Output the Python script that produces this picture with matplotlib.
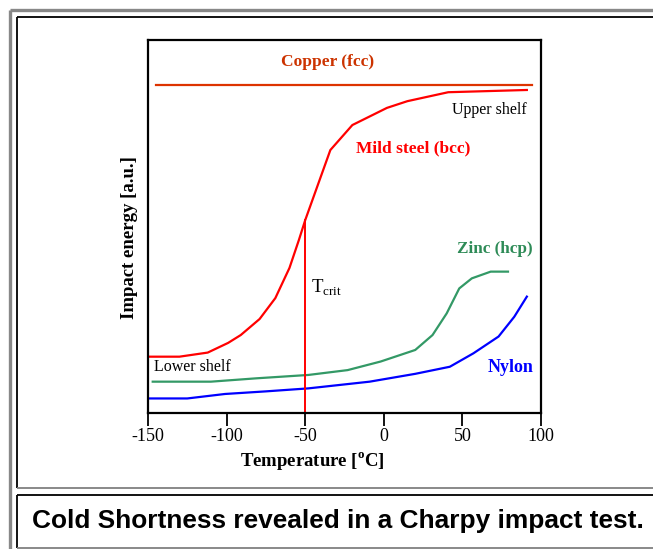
import matplotlib
matplotlib.use('Agg')
import matplotlib.pyplot as plt
from matplotlib.lines import Line2D

# data (impact energy in arbitrary units, 0..100)
copper_x = [-145, 94]
copper_y = [88, 88]

steel_x = [-150, -130, -112, -99, -91, -79, -69, -60, -54, -50, -34, -20, 2, 15, 41, 66, 91]
steel_y = [15.1, 15.1, 16.2, 18.8, 20.9, 25.2, 30.8, 38.9, 46.4, 51.7, 70.5, 77.2, 81.8, 83.6, 86.0, 86.3, 86.6]

zinc_x = [-147, -110, -81, -48, -23, -2, 20, 31, 40, 48, 56, 68, 79]
zinc_y = [8.4, 8.4, 9.3, 10.2, 11.5, 13.8, 16.9, 20.9, 26.7, 33.4, 36.1, 37.9, 37.9]

nylon_x = [-150, -125, -101, -75, -48, -9, 20, 42, 57, 73, 83, 91]
nylon_y = [3.9, 3.9, 5.1, 5.8, 6.6, 8.4, 10.5, 12.4, 16.0, 20.5, 25.8, 31.2]

t_crit = -50
xticks = [-150, -100, -50, 0, 50, 100]

serif = 'Liberation Serif'

fig = plt.figure(figsize=(6.53, 5.49), dpi=100)
W, H = 653.0, 549.0


def px(x, y):
    return x / W, 1 - y / H


# page frame (gray outer band, black inner box lines, caption box)
def fline(x0, y0, x1, y1, color, lw):
    a = px(x0, y0)
    b = px(x1, y1)
    fig.add_artist(Line2D([a[0], b[0]], [a[1], b[1]], color=color, lw=lw,
                          transform=fig.transFigure, solid_capstyle='butt'))


fline(9.5, 9.5, 653, 9.5, '#888888', 2.4)
fline(9.5, 9.5, 9.5, 549, '#888888', 2.4)
fline(16.5, 16.5, 653, 16.5, 'black', 1.3)
fline(16.5, 16.5, 16.5, 488, 'black', 1.3)
fline(16.5, 488, 653, 488, '#808080', 1.3)
fline(16.5, 494.5, 653, 494.5, 'black', 1.3)
fline(16.5, 494.5, 16.5, 548, 'black', 1.3)
fline(16.5, 548, 653, 548, '#808080', 1.3)

ax = fig.add_axes([148 / W, 1 - 413 / H, (541 - 148) / W, (413 - 40) / H])

ax.plot(copper_x, copper_y, color='#DD3300', lw=1.6)
ax.plot(steel_x, steel_y, color='#FF0000', lw=1.6)
ax.plot(zinc_x, zinc_y, color='#339966', lw=1.6)
ax.plot(nylon_x, nylon_y, color='#0000FF', lw=1.6)
ax.plot([t_crit, t_crit], [0, 51.7], color='#FF0000', lw=1.4)

ax.set_xlim(-150, 100)
ax.set_ylim(0, 100)
ax.set_xticks(xticks)
ax.set_xticklabels([str(t) for t in xticks], fontfamily=serif, fontsize=13)
ax.set_yticks([])
ax.tick_params(axis='x', direction='out', length=9, width=1.3, pad=2)
for s in ax.spines.values():
    s.set_linewidth(1.6)

ax.set_xlabel('Temperature [$^{\\mathregular{o}}$C]', fontfamily=serif, fontweight='bold',
              fontsize=13.5)
ax.xaxis.set_label_coords(0.418, -0.1)
ax.set_ylabel('Impact energy [a.u.]', fontfamily=serif, fontweight='bold', fontsize=13.5)
ax.yaxis.set_label_coords(-0.026, 0.47)

ax.text(-36, 94.2, 'Copper (fcc)', color='#CC3300', fontfamily=serif, fontweight='bold',
        fontsize=12.5, ha='center', va='center')
ax.text(91, 81.3, 'Upper shelf', color='black', fontfamily=serif, fontsize=11.5,
        ha='right', va='center')
ax.text(-18, 71.0, 'Mild steel (bcc)', color='#FF0000', fontfamily=serif, fontweight='bold',
        fontsize=12.5, ha='left', va='center')
ax.text(46.5, 44.0, 'Zinc (hcp)', color='#2E8B57', fontfamily=serif, fontweight='bold',
        fontsize=12.3, ha='left', va='center')
ax.text(-46, 33.5, 'T$_{\\mathregular{crit}}$', color='black', fontfamily=serif,
        fontsize=13.5, ha='left', va='center')
ax.text(-146, 12.3, 'Lower shelf', color='black', fontfamily=serif, fontsize=11.5,
        ha='left', va='center')
ax.text(95, 12.3, 'Nylon', color='#0000FF', fontfamily=serif, fontweight='bold',
        fontsize=13, ha='right', va='center')

cx, cy = px(32, 521)
fig.text(cx, cy, 'Cold Shortness revealed in a Charpy impact test.', fontfamily='Liberation Sans',
         fontweight='bold', fontsize=18.9, ha='left', va='center')

fig.savefig('out.png', dpi=100)
